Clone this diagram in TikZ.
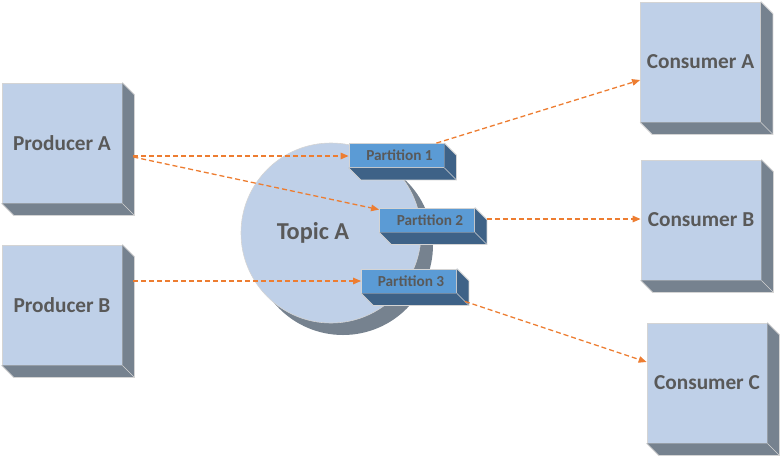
\documentclass[tikz,border=0pt]{standalone}
\usepackage{fontspec}
\setmainfont{Carlito}
\usetikzlibrary{calc,arrows.meta}
\definecolor{face}{HTML}{BFD0E8}
\definecolor{side}{HTML}{76828F}
\definecolor{pface}{HTML}{5B9BD5}
\definecolor{pside}{HTML}{3E6287}
\definecolor{edge}{HTML}{D4D4D4}
\definecolor{txt}{HTML}{595959}
\definecolor{flowc}{HTML}{ED7D31}

\begin{document}
\begin{tikzpicture}[x=1pt,y=-1pt,
 cube/.style={draw=edge,line width=0.8pt,fill=face,minimum width=120pt,
 minimum height=120pt,inner sep=0pt,text=txt,font=\fontsize{21.3}{23}\selectfont\bfseries},
 part/.style={draw=edge,line width=0.8pt,fill=pface,minimum width=95pt,
 minimum height=24pt,inner sep=0pt,text=txt,font=\fontsize{15.3}{16}\selectfont\bfseries},
 flow/.style={draw=flowc,line width=1.3pt,dash pattern=on 5pt off 3pt,
 -{Triangle[length=8pt,width=6.5pt]}},
 ]
 \def\dep{12}
 \useasboundingbox (0,0) rectangle (780,456);
 % topic with its shadow
 \fill[side] (343,245) circle (90pt);
 \draw[edge,fill=face,line width=0.6pt] (331,233) circle (90pt);
 \node[text=txt,font=\fontsize{24.3}{26}\selectfont\bfseries] (topic) at (313,233) {Topic A};
 % producers and consumers
 \node[cube] (pa) at (62,143) {Producer A};
 \node[cube] (pb) at (62,305) {Producer B};
 \node[cube] (ca) at (700.5,62) {Consumer A};
 \node[cube] (cb) at (701,220) {Consumer B};
 \node[cube] (cc) at (707,383) {Consumer C};
 % partitions
 \node[part] (p1) at (396.5,155.5) {\hspace{6pt}Partition 1};
 \node[part] (p2) at (427,220) {\hspace{6pt}Partition 2};
 \node[part] (p3) at (409,281) {\hspace{4pt}Partition 3};
 % extrusions
 \foreach \N/\C in {pa/side,pb/side,ca/side,cb/side,cc/side,p1/pside,p2/pside,p3/pside}
 {\fill[\C] (\N.north east) -- ++(\dep,\dep) -- ($(\N.south east)+(\dep,\dep)$)
  -- ($(\N.south west)+(\dep,\dep)$) -- (\N.south west) -- (\N.south east) -- cycle;
 \draw[edge,line width=0.8pt] (\N.north east) -- ++(\dep,\dep)
  -- ($(\N.south east)+(\dep,\dep)$) -- ($(\N.south west)+(\dep,\dep)$) -- (\N.south west);
 \draw[edge,line width=0.6pt] (\N.south east) -- ++(\dep,\dep);
 }
 % flows
 \draw[flow] ([xshift=11pt,yshift=-0.5pt]pa.east |- p1.west) -- ([yshift=-0.5pt]p1.west);
 \draw[flow] ([xshift=11pt,yshift=-14pt]pa.east) -- ([yshift=-2pt]p2.north west);
 \draw[flow] ([xshift=11pt]pb.east |- p3.west) -- (p3.west);
 \draw[flow] ([xshift=-8pt]p1.north east) -- ([yshift=-18pt]ca.west);
 \draw[flow] ([xshift=12pt,yshift=1pt]p2.east) -- ([yshift=1pt]cb.west);
 \draw[flow] ([xshift=8pt,yshift=-8pt]p3.south east) -- ([yshift=21pt]cc.west);
\end{tikzpicture}
\end{document}
